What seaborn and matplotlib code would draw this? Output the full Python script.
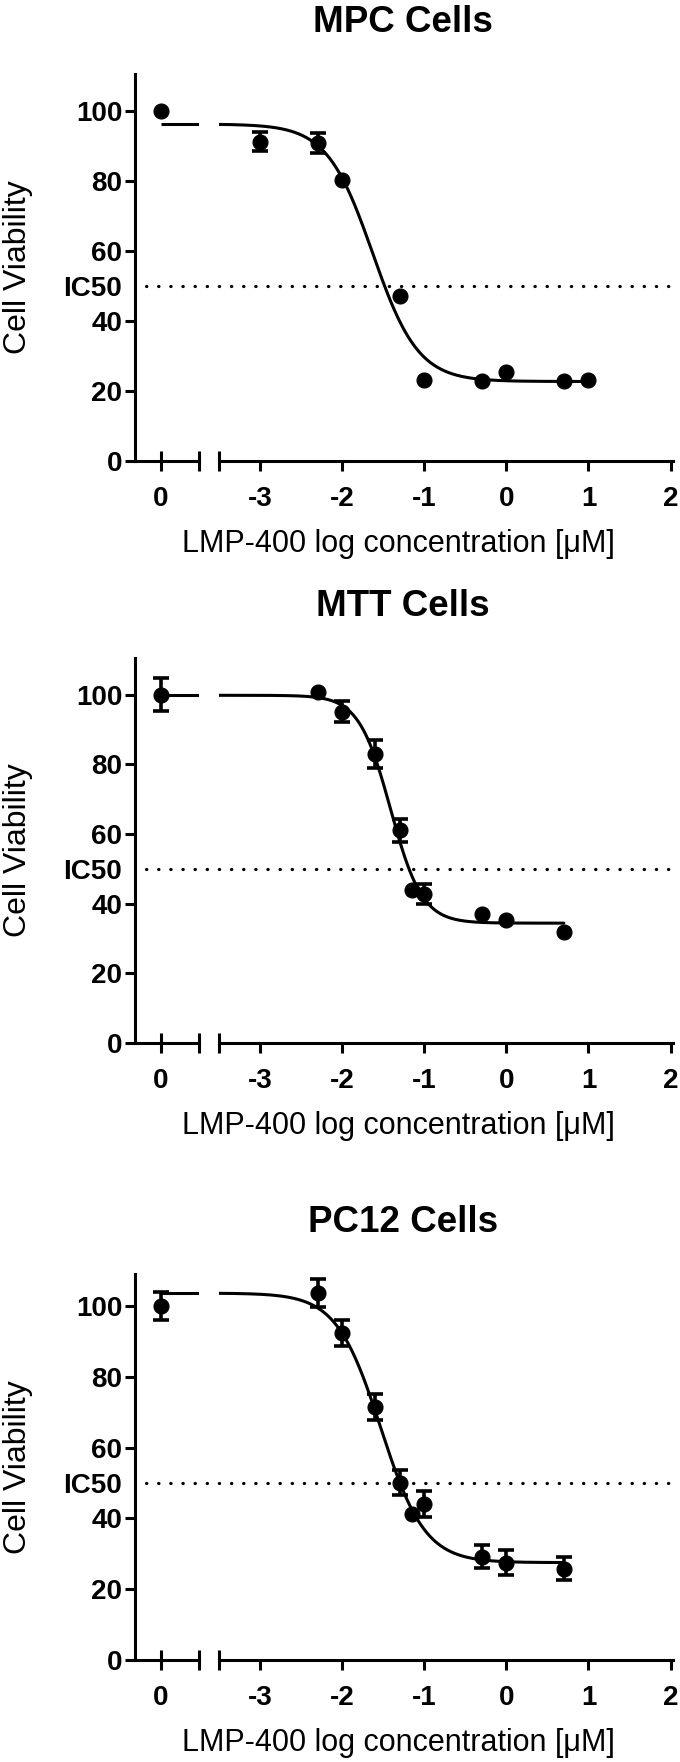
import numpy as np
import pandas as pd
import matplotlib
matplotlib.use("Agg")
import matplotlib.pyplot as plt
import seaborn as sns

titles = ["MPC Cells", "MTT Cells", "PC12 Cells"]

# untreated control, shown on the short left segment at 0
ctrl_y = [100, 100, 100]
ctrl_err = [0, 4.7, 4.0]

# treated wells: log10 concentration [uM] vs viability
mpc_x = [-3.0, -2.3, -2.0, -1.3, -1.0, -0.3, 0.0, 0.7, 1.0]
mpc_y = [91.1, 90.8, 80.1, 47.1, 23.2, 22.7, 25.5, 22.7, 23.0]
mpc_err = [2.7, 2.8, 0, 0, 0, 0, 0, 0, 0]

mtt_x = [-2.3, -2.0, -1.6, -1.3, -1.15, -1.0, -0.3, 0.0, 0.7]
mtt_y = [100.7, 95.1, 82.9, 61.0, 43.8, 42.8, 37.1, 35.4, 31.8]
mtt_err = [0, 3.0, 4.0, 3.2, 0, 2.9, 0, 0, 0]

pc12_x = [-2.3, -2.0, -1.6, -1.3, -1.15, -1.0, -0.3, 0.0, 0.7]
pc12_y = [103.6, 92.4, 71.5, 50.1, 41.2, 44.0, 29.2, 27.5, 25.8]
pc12_err = [3.9, 3.6, 3.7, 3.5, 0, 3.6, 3.3, 3.6, 3.2]

# 4PL fit
fit_top = [96.2, 99.8, 103.6]
fit_bottom = [22.7, 34.4, 27.5]
fit_logic50 = [-1.63, -1.41, -1.53]
fit_hill = [1.56, 2.25, 1.61]

ytop = [110.5, 110.5, 109]
yticks = [0, 20, 40, 60, 80, 100]
xticks = [-3, -2, -1, 0, 1, 2]

series = [(mpc_x, mpc_y, mpc_err), (mtt_x, mtt_y, mtt_err), (pc12_x, pc12_y, pc12_err)]

sns.set_style("ticks")
plt.rcParams["font.family"] = ["Liberation Sans", "DejaVu Sans"]
plt.rcParams["axes.unicode_minus"] = False
for k in ["text.color", "axes.labelcolor", "xtick.color", "ytick.color", "axes.edgecolor"]:
    plt.rcParams[k] = "black"

W, H = 680, 1762
fig = plt.figure(figsize=(W / 100, H / 100), dpi=100)
rows = [(74, 461), (658, 1043), (1274, 1660)]
tick_fs = 20

for i, (top_px, bot_px) in enumerate(rows):
    b = 1 - bot_px / H
    h = (bot_px - top_px) / H
    ax1 = fig.add_axes([135 / W, b, 64.3 / W, h])
    ax2 = fig.add_axes([219 / W, b, 454 / W, h])
    xs, ys, es = series[i]
    df = pd.DataFrame({"logc": xs, "via": ys, "err": es})

    # fitted curve
    top, bot, c, hs = fit_top[i], fit_bottom[i], fit_logic50[i], fit_hill[i]
    xc = np.linspace(-3.6, max(xs), 400)
    yc = bot + (top - bot) / (1 + 10 ** ((xc - c) * hs))
    sns.lineplot(x=xc, y=yc, ax=ax2, color="black", lw=2.2, zorder=2)
    ax1.hlines(top, 0, 0.47, color="black", lw=2.2, zorder=2)

    # points + error bars
    sns.scatterplot(data=df, x="logc", y="via", ax=ax2, color="black",
                    s=115, edgecolor="black", zorder=3)
    eb = df[df.err > 0]
    ax2.errorbar(eb.logc, eb.via, yerr=eb.err, fmt="none", ecolor="black",
                 elinewidth=2.6, capsize=6, capthick=2.6, zorder=3)
    sns.scatterplot(x=[0], y=[ctrl_y[i]], ax=ax1, color="black", s=115,
                    edgecolor="black", zorder=3)
    if ctrl_err[i] > 0:
        ax1.errorbar([0], [ctrl_y[i]], yerr=[ctrl_err[i]], fmt="none",
                     ecolor="black", elinewidth=2.6, capsize=6,
                     capthick=2.6, zorder=3)

    # IC50 dotted line
    ax2.axhline(50, xmin=-0.16, xmax=1.0, clip_on=False, color="black",
                lw=2.3, ls=(0, (0.1, 3.7)), dash_capstyle="round")

    for ax in (ax1, ax2):
        ax.set_ylim(0, ytop[i])
        ax.set_xlabel("")
        ax.set_ylabel("")
        ax.spines["top"].set_visible(False)
        ax.spines["right"].set_visible(False)
        ax.spines["bottom"].set_linewidth(2.2)
        ax.spines["left"].set_linewidth(2.2)
        ax.patch.set_alpha(0)
    ax2.spines["left"].set_visible(False)

    ax1.set_xlim(-0.31, 0.47)
    ax1.set_xticks([0], labels=["0"])
    ax1.set_xticks([0.47], minor=True)
    ax1.tick_params(axis="x", which="both", direction="inout", length=14.4,
                    width=2.2, pad=11, labelsize=tick_fs)
    ax1.set_yticks(yticks)
    ax1.set_yticks([50], labels=["IC50"], minor=True)
    ax1.tick_params(axis="y", which="major", direction="out", length=7.2,
                    width=2.2, pad=2, labelsize=tick_fs)
    ax1.tick_params(axis="y", which="minor", length=0, pad=9.2,
                    labelsize=tick_fs)

    ax2.set_xlim(-3.5, 2.03)
    ax2.set_xticks(xticks)
    ax2.set_xticks([-3.5], minor=True)
    ax2.tick_params(axis="x", which="major", direction="out", length=7.2,
                    width=2.2, pad=11, labelsize=tick_fs)
    ax2.tick_params(axis="x", which="minor", direction="inout", length=14.4,
                    width=2.2)
    ax2.set_yticks([])

    for ax in (ax1, ax2):
        plt.setp(ax.get_xticklabels(which="both") + ax.get_yticklabels(which="both"),
                 fontweight="bold")

    fig.text(403 / W, 1 - (top_px - 42) / H, titles[i], ha="center",
             va="baseline", fontsize=26.5, fontweight="bold")
    fig.text(398 / W, 1 - (bot_px + 91) / H, "LMP-400 log concentration [\u03bcM]",
             ha="center", va="baseline", fontsize=22)
    fig.text(3 / W, 1 - (top_px + bot_px) / 2 / H, "Cell Viability", rotation=90,
             ha="left", va="center", fontsize=23)

fig.savefig("out.png", dpi=100, facecolor="white")
